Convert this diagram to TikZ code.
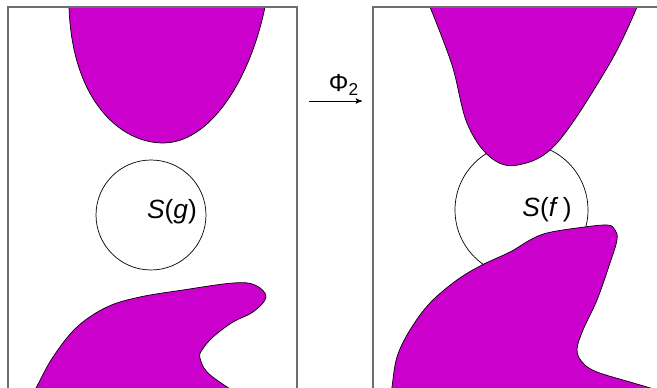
\documentclass[tikz,border=0pt]{standalone}
\usepackage{fontspec}
\setmainfont{Liberation Sans}
\usetikzlibrary{arrows}
\definecolor{blobcolor}{RGB}{204,0,204}
\definecolor{framecolor}{RGB}{110,110,110}
\tikzset{
  panel/.style={draw=framecolor, line width=0.6pt},
  blob/.style={fill=blobcolor, draw=black, line width=0.4pt},
  sphere/.style={circle, draw=black, line width=0.4pt, inner sep=0pt},
  maparrow/.style={-stealth', line width=0.4pt},
  lbl/.style={font=\fontsize{15}{18}\selectfont},
  maplbl/.style={font=\fontsize{14}{16}\selectfont},
}

\begin{document}
\begin{tikzpicture}[x=0.02cm, y=-0.02cm]
  \clip (0,0) rectangle (657,388);

  % Spheres
  \node[sphere, minimum size=2.2cm]  (sg) at (151,215) {};
  \node[sphere, minimum size=2.66cm] (sf) at (521.5,210) {};

  % Left panel
  \draw[blob] (69,7) .. controls (72,100) and (120,143) .. (163,143)
    .. controls (210,143) and (250,80) .. (265,7) -- cycle;
  \draw[blob] plot[smooth, tension=0.6] coordinates {
    (28,402) (36,388) (53,357) (77,327) (107,307) (140,297) (183,290)
    (233,283) (255,285) (266,297) (253,312) (233,322) (213,337)
    (202,350) (200,358) (207,372) (227,387) (245,398)} -- cycle;

  % Right panel
  \draw[blob] plot[smooth, tension=0.6] coordinates {
    (430,7) (452,65) (467,123) (490,157) (518,165)
    (557,143) (610,63) (637,7)} -- cycle;
  \draw[blob] plot[smooth, tension=0.6] coordinates {
    (390,402) (392,387) (397,357) (410,330) (430,303) (457,280) (482,265)
    (510,252) (530,240) (547,233) (577,228) (607,225) (615,230) (617,240)
    (610,263) (597,300) (583,330) (577,350) (583,363) (597,372)
    (630,382) (647,387) (690,400)} -- cycle;

  % Frames
  \draw[panel] (8,7) rectangle (297,400);
  \draw[panel] (373,7) rectangle (700,400);

  % Labels
  \node[lbl] (sglbl) at (172,212) {\textit{S}(\textit{g})};
  \node[lbl] (sflbl) at (547,210) {\textit{S}(\textit{f}\,)};

  % Map
  \coordinate (mapL) at (309,101);
  \coordinate (mapR) at (362,101);
  \draw[maparrow] (mapL) -- (mapR);
  \node[maplbl] (phi) at (344,85) {Φ\textsubscript{2}};
\end{tikzpicture}
\end{document}
